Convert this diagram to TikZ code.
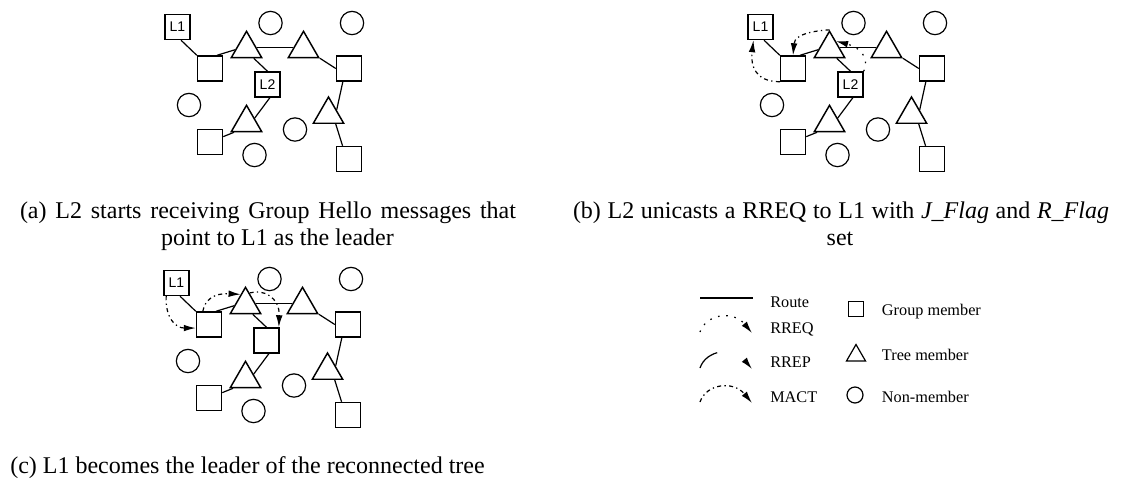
\documentclass[tikz,border=0pt]{standalone}
\usepackage{fontspec}
\setmainfont{Liberation Serif}
\newfontfamily\tagfont{Liberation Sans}
\usetikzlibrary{shapes.geometric,calc,arrows.meta}

\begin{document}
\begin{tikzpicture}[x=0.75pt,y=-0.75pt,
    grpnode/.style={draw,rectangle,minimum size=18.75pt,inner sep=0pt,line width=1.1pt,
      font=\tagfont\fontsize{10.5}{11}\selectfont},
    treenode/.style={draw,regular polygon,regular polygon sides=3,minimum size=26.25pt,
      inner sep=0pt,line width=1.1pt},
    nonnode/.style={draw,circle,minimum size=17.5pt,inner sep=0pt,line width=0.9pt},
    route/.style={line width=0.9pt},
    msg/.style={line width=0.9pt,-{Latex[length=9pt,width=5pt]}},
    rreq/.style={msg,dash pattern=on 1.2pt off 5pt},
    rrep/.style={msg,dash pattern=on 18pt off 40pt},
    mact/.style={msg,dash pattern=on 3pt off 2.5pt on 1pt off 2.5pt},
    keytext/.style={anchor=base west,inner sep=0pt,font=\fontsize{12.2}{14}\selectfont},
    capline/.style={anchor=base,inner sep=0pt,font=\fontsize{18}{20}\selectfont}]

\useasboundingbox (0,0) rectangle (1125,483);

% the same network three times, L2 label dropped in (c)
\foreach \p/\dx/\dy/\ltwo in {a/0/0/L2,b/583/0/L2,c/-1/256/{}}{
\begin{scope}[shift={(\dx,\dy)}]
  \node[grpnode] (L1\p) at (177.5,27) {L1};
  \node[grpnode] (G1\p) at (210,68.5) {};
  \node[grpnode] (G2\p) at (349,68.5) {};
  \node[grpnode] (L2\p) at (267.5,84.5) {\ltwo};
  \node[grpnode] (G3\p) at (210,142) {};
  \node[grpnode] (G4\p) at (349,159) {};
  \node[treenode] (T1\p) at (246.5,48.8) {};
  \node[treenode] (T2\p) at (303.5,48.8) {};
  \node[treenode] (T3\p) at (246.5,122.8) {};
  \node[treenode] (T4\p) at (328.5,114.5) {};
  \node[nonnode] (N1\p) at (270.5,23) {};
  \node[nonnode] (N2\p) at (352,23) {};
  \node[nonnode] (N3\p) at (189,105) {};
  \node[nonnode] (N4\p) at (295,129.5) {};
  \node[nonnode] (N5\p) at (254.5,155) {};
  % tree links
  \draw[route] (L1\p.-75) -- (G1\p.north west);
  \draw[route] (G1\p.62) -- ($(T1\p.corner 1)!0.7!(T1\p.corner 2)$);
  \draw[route] ($(T1\p.corner 1)!0.63!(T1\p.corner 3)$) -- ($(T2\p.corner 1)!0.63!(T2\p.corner 2)$);
  \draw[route] (T2\p.corner 3) -- (G2\p.west);
  \draw[route] ($(T1\p.corner 2)!0.72!(T1\p.corner 3)$) -- (L2\p.north);
  \draw[route] (L2\p.-80) -- (T3\p.side 3);
  \draw[route] ($(T3\p.corner 2)!0.12!(T3\p.corner 3)$) -- (G3\p.22);
  \draw[route] (G2\p.-115) -- (T4\p.side 3);
  \draw[route] ($(T4\p.corner 2)!0.72!(T4\p.corner 3)$) -- (G4\p.116);
\end{scope}
}

% (b) request travelling back to L1
\draw[rreq] (L2b.north east) .. controls ($(L2b.north east)+(6,-14)$) and ($(L2b.north east)+(-4,-24)$)
  .. ($(T1b.corner 1)!0.4!(T1b.corner 3)$);
\draw[mact] (T1b.corner 1) .. controls ($(T1b.corner 1)+(-14,1)$) and ($(G1b.north)+(2,-22)$) .. (G1b.north);
\draw[mact] (G1b.south west) .. controls ($(G1b.south west)+(-25,0)$) and ($(L1b.-118)+(-3,25)$) .. (L1b.-118);

% (c) activation from L1 down to the old branch
\draw[mact] (L1c.-128) .. controls ($(L1c.-128)+(-1,22)$) and ($(G1c.-165)+(-20,0)$) .. (G1c.-165);
\draw[mact] (G1c.115) .. controls ($(G1c.115)+(2,-11)$) and ($(T1c.corner 1)+(-32,7)$)
  .. ($(T1c.corner 1)!0.3!(T1c.corner 2)$);
\draw[mact] ($(T1c.corner 1)!0.25!(T1c.corner 3)$) .. controls ($(T1c.corner 1)+(18,3)$) and ($(L2c.47)+(1,-30)$) .. (L2c.47);

% key
\coordinate (routeA) at (700,298);
\coordinate (routeB) at (753,298);
\draw[route] (routeA) -- (routeB);
\foreach \st/\yy in {rreq/332,rrep/368,mact/402}
  \draw[\st] (700,\yy) .. controls (706,\yy-18) and (733,\yy-22) .. (752,\yy+1);
\node[keytext] (kroute) at (770,307) {Route};
\node[keytext] (krreq) at (770,333) {RREQ};
\node[keytext] (krrep) at (770,367) {RREP};
\node[keytext] (kmact) at (770,402.5) {MACT};
\node[grpnode,minimum size=11.25pt,line width=0.9pt] (keygrp) at (856,309) {};
\node[treenode,minimum size=16.5pt,line width=0.9pt] (keytree) at (856,355.5) {};
\node[nonnode,minimum size=12pt] (keynon) at (855,395) {};
\node[keytext] (kgrp) at (881.7,315) {Group member};
\node[keytext] (ktree) at (881.7,360) {Tree member};
\node[keytext] (knon) at (881.7,402) {Non-member};

% captions, first lines set justified
\node[capline] (capa1) at (268,218) {\makebox[372pt][s]{(a) L2 starts receiving Group Hello messages that}};
\node[capline] (capa2) at (277.5,245) {point to L1 as the leader};
\node[capline] (capb1) at (841,218) {\makebox[402pt][s]{(b) L2 unicasts a RREQ to L1 with \textit{J\_Flag} and \textit{R\_Flag}}};
\node[capline] (capb2) at (840,245) {set};
\node[capline,anchor=base west] (capc) at (10,473) {(c) L1 becomes the leader of the reconnected tree};

\end{tikzpicture}
\end{document}
